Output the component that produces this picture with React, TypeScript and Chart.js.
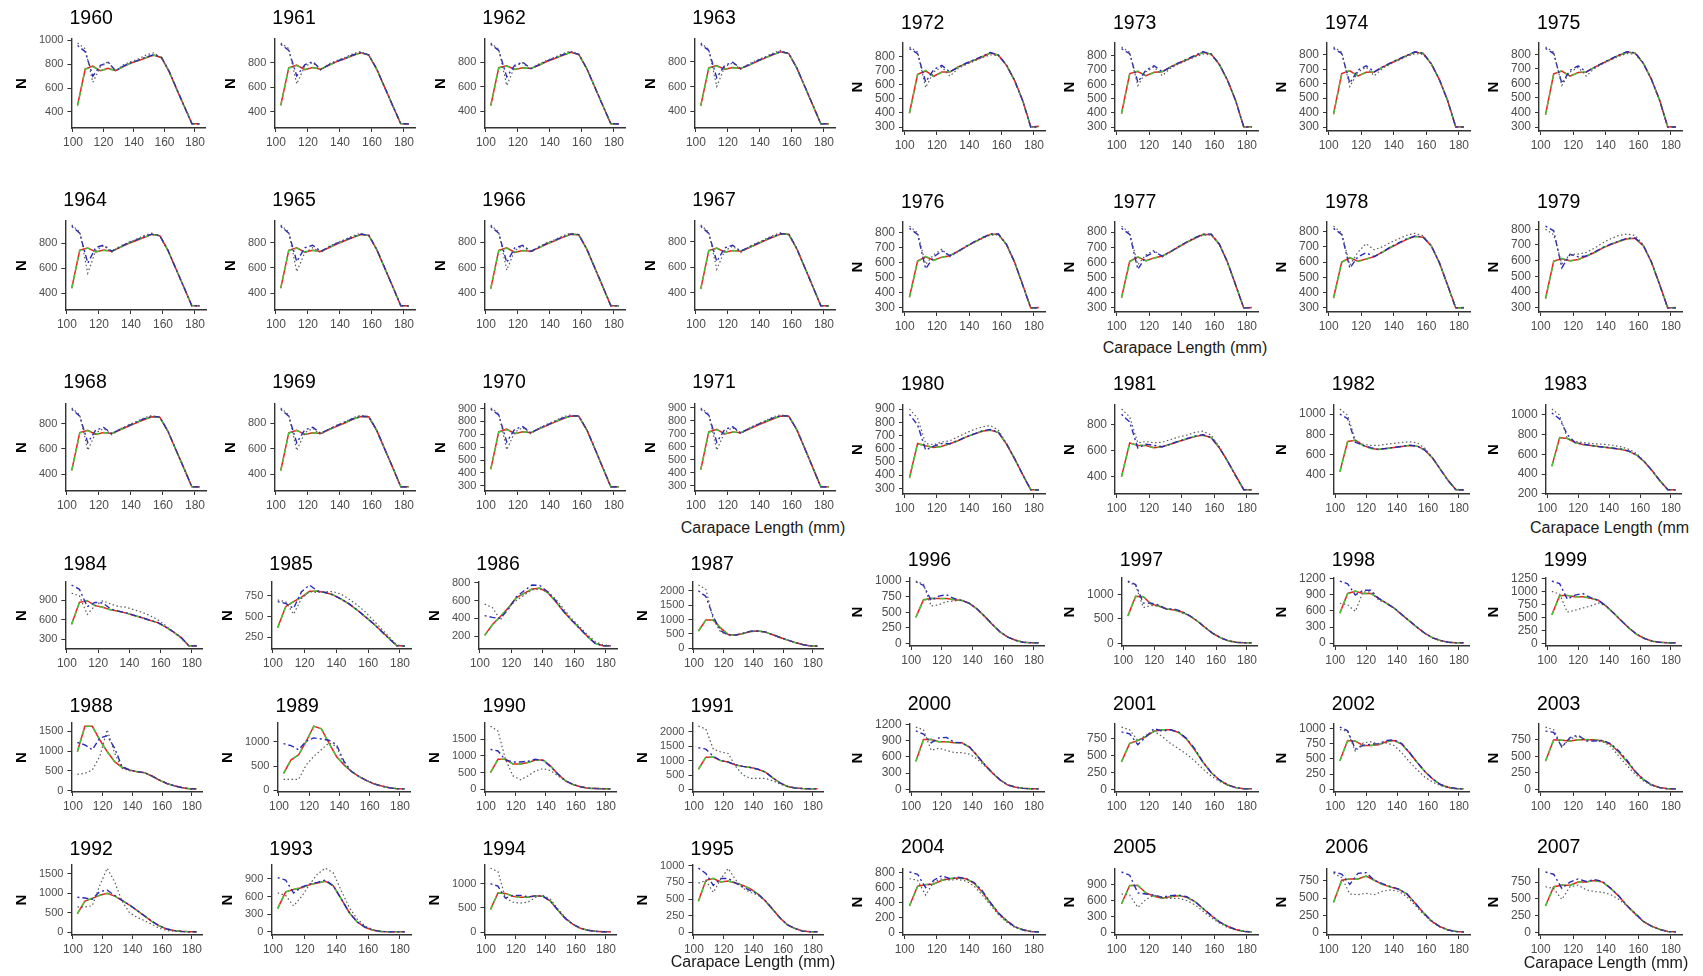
import React, { useEffect, useRef } from "react";
import { Chart, registerables } from "chart.js";

Chart.register(...registerables);

// ---------------- DATA ----------------
const lengthClasses = [103, 108, 113, 118, 123, 128, 133, 138, 143, 148, 153, 158, 163, 168, 173, 178, 183];
const xTickValues = [100, 120, 140, 160, 180];

const panelYears = [
  1960, 1961, 1962, 1963, 1964, 1965, 1966, 1967, 1968, 1969, 1970, 1971,
  1972, 1973, 1974, 1975, 1976, 1977, 1978, 1979, 1980, 1981, 1982, 1983,
  1984, 1985, 1986, 1987, 1988, 1989, 1990, 1991, 1992, 1993, 1994, 1995,
  1996, 1997, 1998, 1999, 2000, 2001, 2002, 2003, 2004, 2005, 2006, 2007,
];

// red solid line
const redSeries = [
  [456, 760, 785, 745, 765, 745, 780, 810, 830, 855, 878, 855, 740, 590, 445, 300, 300],
  [452, 758, 780, 742, 760, 745, 778, 808, 832, 858, 880, 862, 745, 595, 445, 300, 300],
  [448, 755, 770, 740, 755, 748, 775, 805, 830, 855, 880, 862, 748, 598, 448, 300, 300],
  [445, 750, 768, 738, 752, 745, 770, 800, 828, 855, 880, 865, 750, 600, 450, 300, 300],
  [440, 745, 762, 730, 745, 735, 765, 795, 820, 845, 870, 860, 745, 598, 450, 300, 300],
  [440, 740, 760, 725, 740, 730, 760, 790, 815, 840, 865, 858, 745, 598, 450, 300, 300],
  [435, 735, 755, 720, 735, 728, 755, 785, 810, 838, 862, 858, 745, 598, 450, 300, 300],
  [432, 730, 750, 718, 732, 725, 752, 780, 808, 835, 860, 858, 745, 598, 450, 300, 300],
  [430, 730, 748, 715, 730, 722, 750, 778, 805, 832, 855, 852, 742, 596, 450, 300, 300],
  [428, 725, 745, 712, 725, 720, 748, 775, 802, 830, 852, 850, 742, 596, 450, 300, 300],
  [430, 720, 740, 705, 720, 712, 740, 768, 795, 820, 842, 840, 735, 590, 440, 292, 292],
  [425, 715, 735, 700, 715, 708, 736, 765, 790, 815, 838, 836, 732, 588, 440, 292, 292],
  [400, 676, 700, 662, 693, 693, 729, 752, 776, 800, 829, 812, 740, 633, 490, 300, 305],
  [395, 675, 690, 660, 685, 688, 722, 748, 772, 798, 825, 812, 740, 630, 488, 300, 302],
  [390, 670, 690, 655, 680, 682, 715, 742, 768, 795, 820, 810, 738, 628, 486, 300, 302],
  [385, 665, 685, 650, 675, 678, 710, 738, 765, 792, 815, 808, 738, 628, 486, 300, 302],
  [372, 612, 640, 618, 638, 648, 678, 708, 738, 765, 790, 790, 722, 605, 455, 300, 302],
  [368, 608, 635, 612, 630, 642, 672, 702, 732, 760, 785, 785, 720, 603, 453, 300, 302],
  [365, 600, 628, 605, 620, 635, 665, 695, 722, 748, 768, 762, 705, 595, 450, 300, 302],
  [360, 598, 612, 600, 608, 628, 652, 680, 702, 722, 740, 742, 695, 592, 450, 300, 302],
  [380, 640, 622, 610, 618, 638, 660, 688, 710, 732, 742, 722, 635, 525, 405, 290, 290],
  [400, 660, 640, 640, 622, 630, 650, 670, 690, 708, 720, 700, 622, 522, 410, 300, 300],
  [430, 728, 740, 690, 660, 650, 658, 668, 678, 688, 682, 642, 562, 452, 342, 250, 250],
  [480, 770, 760, 720, 700, 690, 680, 670, 660, 650, 630, 590, 520, 430, 330, 240, 240],
  [530, 865, 890, 815, 790, 750, 730, 700, 665, 630, 590, 555, 490, 415, 330, 200, 200],
  [370, 620, 680, 735, 805, 805, 790, 760, 710, 650, 580, 500, 420, 330, 240, 150, 150],
  [210, 330, 420, 520, 630, 680, 730, 740, 690, 590, 480, 380, 290, 200, 120, 90, 90],
  [600, 980, 980, 700, 480, 450, 510, 580, 600, 560, 470, 370, 280, 200, 130, 80, 80],
  [991, 1627, 1627, 1288, 991, 737, 593, 525, 483, 458, 373, 271, 186, 127, 85, 51, 51],
  [350, 629, 734, 1014, 1329, 1273, 979, 699, 524, 385, 280, 196, 126, 84, 49, 28, 28],
  [500, 900, 900, 760, 760, 800, 880, 880, 700, 450, 250, 140, 70, 30, 20, 10, 10],
  [700, 1120, 1120, 1000, 950, 850, 800, 760, 700, 600, 400, 220, 100, 50, 30, 20, 20],
  [480, 800, 870, 950, 1000, 930, 820, 700, 560, 420, 280, 160, 80, 40, 20, 10, 10],
  [400, 680, 720, 750, 800, 830, 860, 780, 560, 330, 170, 80, 30, 10, 5, 5, 5],
  [470, 810, 800, 740, 720, 720, 750, 740, 640, 450, 280, 160, 80, 40, 20, 10, 10],
  [472, 782, 808, 756, 772, 741, 705, 653, 575, 472, 342, 212, 109, 57, 21, 10, 10],
  [420, 700, 720, 720, 720, 700, 690, 640, 550, 430, 300, 180, 100, 50, 20, 10, 10],
  [560, 960, 950, 800, 760, 700, 680, 640, 560, 450, 320, 200, 110, 50, 20, 10, 10],
  [564, 927, 970, 927, 927, 836, 745, 655, 533, 412, 291, 182, 97, 48, 18, 6, 6],
  [550, 920, 920, 900, 900, 870, 830, 720, 580, 430, 290, 170, 90, 40, 20, 10, 10],
  [520, 920, 920, 880, 880, 860, 860, 780, 620, 450, 300, 170, 80, 40, 20, 10, 10],
  [410, 680, 720, 780, 860, 880, 880, 840, 740, 580, 400, 250, 140, 70, 30, 10, 10],
  [470, 800, 790, 720, 720, 730, 780, 800, 740, 600, 440, 290, 170, 80, 35, 15, 10],
  [430, 750, 740, 730, 750, 750, 750, 730, 680, 560, 420, 270, 150, 70, 30, 10, 10],
  [360, 620, 640, 650, 700, 720, 730, 720, 660, 540, 400, 260, 160, 80, 40, 15, 10],
  [540, 880, 880, 740, 680, 640, 670, 690, 660, 580, 450, 320, 200, 120, 60, 25, 15],
  [440, 760, 780, 780, 820, 760, 700, 660, 630, 560, 430, 290, 170, 90, 40, 15, 10],
  [398, 680, 703, 703, 750, 750, 773, 750, 656, 539, 398, 281, 164, 94, 47, 14, 9],
];

// green dashed line
const greenSeries = [
  [450, 758, 778, 748, 760, 750, 778, 812, 832, 858, 875, 858, 742, 592, 448, 302, 298],
  [448, 755, 776, 745, 758, 748, 776, 810, 834, 860, 878, 864, 746, 596, 448, 302, 298],
  [445, 752, 768, 742, 752, 750, 773, 808, 832, 858, 878, 864, 748, 598, 450, 302, 298],
  [442, 748, 765, 740, 750, 748, 770, 803, 830, 857, 878, 866, 750, 600, 452, 302, 298],
  [438, 742, 760, 732, 742, 738, 765, 798, 822, 848, 868, 862, 746, 598, 452, 302, 298],
  [438, 738, 756, 728, 738, 733, 760, 793, 818, 843, 863, 860, 746, 598, 452, 302, 298],
  [433, 732, 752, 722, 733, 730, 755, 788, 813, 840, 860, 860, 746, 598, 452, 302, 298],
  [430, 728, 748, 720, 730, 728, 752, 783, 810, 838, 858, 860, 746, 598, 452, 302, 298],
  [428, 728, 745, 718, 728, 725, 750, 780, 808, 835, 853, 854, 744, 596, 452, 302, 298],
  [426, 722, 742, 715, 723, 723, 748, 778, 805, 832, 850, 852, 744, 596, 452, 302, 298],
  [428, 718, 736, 708, 718, 715, 740, 770, 798, 823, 840, 842, 737, 590, 442, 294, 290],
  [423, 712, 732, 703, 713, 711, 736, 768, 793, 818, 836, 838, 734, 588, 442, 294, 290],
  [398, 672, 705, 660, 690, 695, 727, 755, 778, 803, 827, 815, 742, 630, 488, 302, 300],
  [393, 672, 694, 658, 683, 690, 720, 750, 775, 800, 823, 814, 742, 628, 486, 302, 300],
  [388, 668, 692, 653, 678, 684, 714, 745, 770, 797, 818, 812, 740, 626, 484, 302, 300],
  [383, 663, 688, 648, 673, 680, 710, 740, 767, 794, 813, 810, 740, 626, 484, 302, 300],
  [370, 608, 644, 616, 636, 650, 676, 710, 740, 768, 788, 792, 724, 603, 453, 302, 300],
  [366, 604, 638, 610, 628, 644, 670, 705, 735, 763, 783, 787, 722, 601, 451, 302, 300],
  [363, 596, 631, 603, 618, 637, 663, 698, 725, 751, 766, 764, 707, 593, 448, 302, 300],
  [358, 594, 615, 598, 606, 630, 650, 683, 705, 725, 738, 744, 697, 590, 448, 302, 300],
  [378, 636, 625, 608, 616, 640, 658, 690, 712, 735, 740, 724, 637, 523, 403, 292, 288],
  [398, 656, 643, 638, 620, 632, 648, 672, 692, 711, 718, 702, 624, 520, 408, 302, 298],
  [428, 724, 743, 688, 658, 652, 656, 670, 680, 691, 680, 644, 564, 450, 340, 252, 248],
  [478, 766, 763, 718, 698, 692, 678, 672, 662, 653, 628, 592, 522, 428, 328, 242, 238],
  [525, 860, 893, 812, 788, 752, 728, 702, 667, 633, 588, 557, 492, 413, 328, 202, 198],
  [365, 615, 684, 732, 802, 808, 788, 762, 712, 653, 578, 502, 422, 328, 238, 152, 148],
  [205, 326, 424, 518, 628, 683, 728, 742, 692, 593, 478, 382, 292, 198, 118, 92, 88],
  [595, 975, 984, 698, 478, 452, 508, 582, 602, 563, 468, 372, 282, 198, 128, 82, 78],
  [985, 1620, 1632, 1280, 985, 740, 590, 528, 485, 460, 370, 273, 188, 125, 83, 53, 49],
  [345, 625, 738, 1010, 1325, 1277, 975, 702, 526, 388, 278, 198, 128, 82, 47, 30, 26],
  [495, 895, 904, 758, 758, 803, 878, 883, 702, 453, 248, 142, 72, 28, 18, 12, 8],
  [695, 1115, 1124, 998, 948, 852, 798, 762, 702, 603, 398, 222, 102, 48, 28, 22, 18],
  [475, 795, 874, 948, 998, 933, 818, 702, 562, 423, 278, 162, 82, 38, 18, 12, 8],
  [395, 676, 724, 748, 798, 833, 858, 782, 562, 333, 168, 82, 32, 8, 3, 7, 3],
  [465, 805, 804, 738, 718, 723, 748, 742, 642, 453, 278, 162, 82, 38, 18, 12, 8],
  [465, 775, 812, 760, 768, 744, 703, 655, 577, 475, 340, 214, 111, 55, 19, 12, 8],
  [415, 695, 724, 718, 718, 703, 688, 642, 552, 433, 298, 182, 102, 48, 18, 12, 8],
  [555, 955, 954, 798, 758, 703, 678, 642, 562, 453, 318, 202, 112, 48, 18, 12, 8],
  [558, 922, 973, 925, 925, 839, 743, 657, 535, 415, 289, 184, 99, 46, 16, 8, 4],
  [545, 915, 924, 898, 898, 873, 828, 722, 582, 433, 288, 172, 92, 38, 18, 12, 8],
  [515, 915, 924, 878, 878, 863, 858, 782, 622, 453, 298, 172, 82, 38, 18, 12, 8],
  [405, 676, 724, 778, 858, 883, 878, 842, 742, 583, 398, 252, 142, 68, 28, 12, 8],
  [465, 795, 794, 718, 718, 733, 778, 802, 742, 603, 438, 292, 172, 78, 33, 17, 8],
  [425, 745, 744, 728, 748, 753, 748, 732, 682, 563, 418, 272, 152, 68, 28, 12, 8],
  [355, 616, 644, 648, 698, 723, 728, 722, 662, 543, 398, 262, 162, 78, 38, 17, 8],
  [535, 875, 884, 738, 678, 643, 668, 692, 662, 583, 448, 322, 202, 118, 58, 27, 13],
  [435, 756, 784, 778, 818, 763, 698, 662, 632, 563, 428, 292, 172, 88, 38, 17, 8],
  [392, 675, 707, 700, 748, 753, 771, 752, 658, 542, 396, 283, 166, 92, 45, 16, 7],
];

// blue dot-dash line
const blueSeries = [
  [958, 905, 700, 790, 815, 745, 785, 812, 835, 860, 880, 858, 742, 592, 445, 300, 298],
  [950, 900, 690, 782, 808, 745, 782, 810, 835, 862, 882, 864, 746, 596, 446, 300, 298],
  [945, 895, 680, 775, 800, 748, 778, 808, 834, 860, 882, 864, 748, 598, 448, 300, 298],
  [940, 890, 670, 770, 795, 745, 775, 805, 832, 860, 882, 866, 750, 600, 450, 300, 298],
  [935, 880, 640, 765, 785, 735, 770, 800, 825, 850, 872, 862, 746, 598, 450, 300, 298],
  [930, 875, 650, 760, 780, 730, 765, 795, 820, 845, 868, 860, 746, 598, 450, 300, 298],
  [925, 870, 640, 755, 775, 728, 760, 790, 815, 842, 865, 860, 746, 598, 450, 300, 298],
  [920, 865, 645, 752, 772, 725, 757, 785, 812, 840, 862, 860, 746, 598, 450, 300, 298],
  [915, 860, 650, 750, 770, 722, 755, 782, 810, 838, 858, 854, 744, 596, 450, 300, 298],
  [910, 855, 645, 748, 768, 720, 752, 780, 808, 835, 855, 852, 744, 596, 450, 300, 298],
  [895, 850, 640, 740, 760, 712, 745, 772, 800, 826, 845, 842, 737, 590, 440, 292, 290],
  [890, 845, 635, 735, 755, 708, 740, 768, 795, 822, 840, 838, 734, 588, 440, 292, 290],
  [860, 824, 621, 710, 740, 693, 725, 755, 780, 805, 832, 814, 742, 632, 488, 300, 300],
  [850, 815, 615, 700, 730, 688, 720, 750, 776, 802, 828, 814, 742, 630, 486, 300, 300],
  [845, 810, 605, 695, 725, 682, 715, 745, 772, 798, 822, 812, 740, 628, 484, 300, 300],
  [840, 805, 600, 690, 720, 678, 710, 740, 768, 795, 818, 810, 740, 628, 484, 300, 300],
  [830, 790, 560, 640, 680, 648, 676, 710, 740, 768, 792, 792, 724, 605, 453, 300, 300],
  [825, 785, 555, 640, 670, 642, 670, 705, 735, 763, 787, 787, 722, 603, 451, 300, 300],
  [820, 780, 560, 635, 660, 635, 665, 698, 725, 752, 770, 764, 707, 595, 448, 300, 300],
  [820, 790, 555, 640, 625, 630, 655, 683, 705, 725, 742, 744, 697, 592, 448, 300, 300],
  [860, 780, 590, 620, 640, 638, 662, 690, 712, 735, 745, 724, 637, 525, 403, 290, 288],
  [880, 820, 620, 650, 640, 630, 652, 672, 692, 711, 722, 702, 624, 522, 408, 300, 298],
  [1000, 955, 720, 690, 668, 650, 660, 670, 680, 691, 684, 644, 564, 452, 340, 250, 248],
  [1020, 960, 800, 720, 705, 690, 680, 672, 662, 653, 632, 592, 522, 430, 328, 240, 238],
  [1130, 1065, 800, 865, 855, 765, 732, 702, 667, 633, 592, 557, 492, 415, 328, 200, 198],
  [680, 660, 600, 800, 880, 810, 790, 762, 712, 653, 582, 502, 422, 330, 238, 150, 148],
  [430, 410, 400, 500, 640, 710, 775, 770, 700, 600, 482, 382, 292, 200, 118, 90, 88],
  [2000, 1800, 1100, 600, 460, 460, 520, 590, 602, 563, 472, 372, 282, 200, 128, 80, 78],
  [1220, 1161, 1034, 1330, 1390, 1076, 610, 525, 485, 460, 375, 273, 188, 127, 83, 51, 49],
  [965, 923, 839, 1014, 1084, 1063, 1035, 944, 594, 385, 282, 198, 128, 84, 47, 28, 26],
  [1200, 1150, 880, 820, 820, 840, 900, 860, 680, 453, 252, 142, 72, 30, 18, 10, 8],
  [1450, 1400, 1150, 1000, 950, 850, 800, 762, 702, 603, 402, 222, 102, 50, 28, 20, 18],
  [900, 880, 850, 1050, 1080, 950, 820, 702, 562, 423, 282, 162, 82, 40, 18, 10, 8],
  [920, 880, 660, 760, 810, 840, 880, 782, 562, 333, 172, 82, 32, 10, 3, 5, 3],
  [1000, 950, 700, 760, 760, 730, 750, 742, 642, 453, 282, 162, 82, 40, 18, 10, 8],
  [964, 886, 705, 808, 808, 741, 679, 627, 575, 475, 344, 214, 111, 57, 19, 10, 8],
  [990, 930, 690, 760, 780, 720, 690, 642, 552, 433, 302, 182, 102, 50, 18, 10, 8],
  [1270, 1200, 820, 820, 780, 700, 700, 650, 562, 453, 322, 202, 112, 50, 18, 10, 8],
  [1158, 1109, 897, 988, 988, 836, 745, 657, 535, 415, 293, 184, 99, 48, 16, 6, 4],
  [1200, 1150, 850, 930, 960, 880, 830, 722, 582, 433, 292, 172, 92, 40, 18, 10, 8],
  [1080, 1020, 860, 950, 960, 870, 860, 782, 622, 453, 302, 172, 82, 40, 18, 10, 8],
  [850, 820, 660, 780, 900, 860, 880, 850, 750, 600, 402, 252, 142, 70, 28, 10, 8],
  [1020, 960, 660, 720, 740, 750, 800, 810, 750, 603, 442, 292, 172, 80, 33, 15, 8],
  [880, 860, 640, 780, 820, 730, 730, 740, 690, 580, 440, 272, 152, 70, 28, 10, 8],
  [810, 780, 600, 700, 760, 720, 740, 720, 670, 560, 402, 262, 162, 80, 38, 15, 8],
  [1130, 1070, 740, 720, 700, 660, 690, 700, 670, 583, 452, 322, 202, 120, 58, 25, 13],
  [880, 850, 700, 860, 870, 760, 710, 670, 632, 563, 432, 292, 172, 90, 38, 15, 8],
  [900, 867, 656, 750, 797, 759, 788, 759, 658, 542, 400, 283, 166, 94, 45, 14, 7],
];

// grey dotted line
const greySeries = [
  [978, 930, 648, 780, 822, 742, 795, 822, 845, 878, 895, 852, 738, 590, 448, 302, 298],
  [960, 915, 625, 770, 800, 738, 790, 818, 842, 872, 892, 860, 742, 594, 447, 302, 298],
  [955, 905, 610, 765, 795, 740, 785, 815, 840, 870, 890, 860, 745, 596, 448, 302, 298],
  [950, 900, 600, 760, 790, 738, 782, 812, 838, 868, 890, 862, 748, 598, 450, 302, 298],
  [945, 890, 560, 740, 780, 728, 775, 805, 830, 860, 880, 858, 742, 596, 450, 302, 298],
  [940, 885, 570, 720, 760, 720, 770, 800, 825, 855, 875, 855, 742, 596, 450, 302, 298],
  [935, 880, 580, 735, 770, 718, 765, 795, 820, 850, 872, 855, 742, 596, 450, 302, 298],
  [930, 875, 585, 730, 765, 715, 760, 790, 818, 848, 870, 855, 742, 596, 450, 302, 298],
  [925, 870, 590, 728, 762, 712, 758, 788, 815, 845, 865, 850, 740, 594, 450, 302, 298],
  [920, 865, 585, 725, 760, 710, 755, 785, 812, 842, 862, 848, 740, 594, 450, 302, 298],
  [905, 860, 580, 718, 752, 705, 748, 778, 805, 835, 852, 838, 733, 588, 440, 294, 290],
  [900, 855, 575, 712, 748, 700, 744, 774, 800, 830, 848, 834, 730, 586, 440, 294, 290],
  [871, 836, 581, 693, 729, 662, 717, 745, 770, 795, 815, 808, 738, 630, 488, 302, 300],
  [862, 825, 590, 688, 722, 660, 712, 742, 768, 792, 812, 806, 738, 628, 486, 302, 300],
  [855, 820, 580, 682, 715, 655, 706, 738, 764, 790, 808, 804, 736, 626, 484, 302, 300],
  [850, 815, 585, 678, 710, 650, 702, 734, 760, 786, 805, 802, 736, 626, 484, 302, 300],
  [845, 800, 590, 655, 690, 640, 672, 705, 735, 762, 785, 786, 720, 603, 453, 302, 300],
  [840, 795, 585, 650, 680, 636, 668, 700, 730, 758, 780, 782, 718, 601, 451, 302, 300],
  [835, 790, 580, 665, 720, 680, 700, 728, 752, 775, 788, 772, 705, 593, 448, 302, 300],
  [800, 765, 580, 640, 642, 652, 680, 712, 740, 760, 770, 760, 702, 590, 448, 302, 300],
  [900, 830, 640, 630, 650, 660, 690, 720, 745, 765, 775, 740, 640, 523, 403, 292, 288],
  [920, 860, 660, 670, 660, 665, 685, 705, 720, 740, 750, 720, 630, 520, 408, 302, 298],
  [1050, 990, 740, 700, 690, 690, 700, 710, 720, 725, 715, 660, 565, 450, 340, 252, 248],
  [1060, 1000, 760, 730, 720, 710, 705, 700, 690, 675, 650, 605, 525, 428, 328, 242, 238],
  [1005, 965, 680, 815, 890, 840, 800, 790, 750, 715, 665, 600, 515, 415, 315, 200, 200],
  [700, 680, 530, 720, 800, 790, 800, 800, 770, 710, 640, 560, 460, 360, 260, 160, 150],
  [560, 520, 380, 520, 600, 660, 720, 730, 700, 620, 510, 400, 310, 220, 140, 100, 90],
  [2200, 2050, 1000, 560, 480, 460, 520, 585, 600, 560, 470, 370, 280, 200, 128, 80, 78],
  [415, 440, 525, 864, 1542, 949, 568, 508, 483, 458, 373, 271, 186, 127, 85, 51, 51],
  [224, 224, 224, 524, 699, 839, 979, 909, 524, 385, 280, 196, 126, 84, 49, 28, 28],
  [1900, 1750, 900, 400, 280, 400, 550, 620, 560, 400, 250, 140, 70, 30, 20, 10, 10],
  [2200, 2100, 1400, 1300, 1250, 800, 500, 380, 380, 380, 300, 180, 90, 50, 30, 20, 20],
  [650, 650, 680, 1200, 1650, 1300, 800, 500, 380, 300, 200, 100, 40, 20, 10, 10, 10],
  [660, 620, 440, 600, 800, 980, 1080, 1000, 700, 420, 220, 100, 40, 10, 5, 5, 5],
  [1320, 1250, 700, 620, 600, 620, 720, 760, 680, 480, 300, 160, 80, 40, 20, 10, 10],
  [740, 780, 600, 800, 960, 790, 660, 600, 560, 470, 342, 212, 109, 57, 21, 10, 10],
  [1000, 950, 600, 620, 670, 680, 700, 640, 550, 430, 300, 180, 100, 50, 20, 10, 10],
  [1250, 1180, 730, 770, 760, 690, 690, 620, 560, 450, 320, 200, 110, 50, 20, 10, 10],
  [745, 715, 594, 958, 958, 806, 745, 655, 533, 412, 291, 182, 97, 48, 18, 6, 6],
  [1000, 950, 600, 640, 680, 720, 780, 720, 580, 430, 290, 170, 90, 40, 20, 10, 10],
  [1150, 1100, 720, 760, 720, 680, 680, 650, 560, 430, 300, 170, 80, 40, 20, 10, 10],
  [920, 880, 720, 800, 860, 780, 680, 600, 520, 420, 300, 200, 120, 60, 25, 10, 10],
  [980, 950, 620, 760, 780, 740, 760, 720, 600, 450, 320, 200, 120, 60, 25, 10, 10],
  [940, 900, 650, 760, 800, 750, 740, 720, 650, 500, 360, 230, 130, 60, 25, 10, 10],
  [720, 700, 500, 680, 720, 700, 710, 690, 620, 500, 370, 240, 140, 70, 30, 15, 10],
  [720, 700, 470, 620, 700, 650, 640, 640, 600, 520, 400, 280, 180, 100, 50, 20, 15],
  [860, 800, 560, 550, 570, 550, 600, 620, 600, 520, 400, 270, 160, 80, 35, 15, 10],
  [680, 656, 492, 680, 703, 633, 609, 600, 562, 492, 398, 267, 164, 94, 47, 14, 9],
];

const yTickValues = [
  [400, 600, 800, 1000], [400, 600, 800], [400, 600, 800], [400, 600, 800],
  [400, 600, 800], [400, 600, 800], [400, 600, 800], [400, 600, 800],
  [400, 600, 800], [400, 600, 800], [300, 400, 500, 600, 700, 800, 900], [300, 400, 500, 600, 700, 800, 900],
  [300, 400, 500, 600, 700, 800], [300, 400, 500, 600, 700, 800], [300, 400, 500, 600, 700, 800], [300, 400, 500, 600, 700, 800],
  [300, 400, 500, 600, 700, 800], [300, 400, 500, 600, 700, 800], [300, 400, 500, 600, 700, 800], [300, 400, 500, 600, 700, 800],
  [300, 400, 500, 600, 700, 800, 900], [400, 600, 800], [400, 600, 800, 1000], [200, 400, 600, 800, 1000],
  [300, 600, 900], [250, 500, 750], [200, 400, 600, 800], [0, 500, 1000, 1500, 2000],
  [0, 500, 1000, 1500], [0, 500, 1000], [0, 500, 1000, 1500], [0, 500, 1000, 1500, 2000],
  [0, 500, 1000, 1500], [0, 300, 600, 900], [0, 500, 1000], [0, 250, 500, 750, 1000],
  [0, 250, 500, 750, 1000], [0, 500, 1000], [0, 300, 600, 900, 1200], [0, 250, 500, 750, 1000, 1250],
  [0, 300, 600, 900, 1200], [0, 250, 500, 750], [0, 250, 500, 750, 1000], [0, 250, 500, 750],
  [0, 200, 400, 600, 800], [0, 300, 600, 900], [0, 250, 500, 750], [0, 250, 500, 750],
];

const xAxisLabelText = "Carapace Length (mm)";

// ---------------- LAYOUT ----------------
const FONT = "'Liberation Sans', Arial, Helvetica, sans-serif";

const leftRows = [
  { top: 39, bottom: 128, title: 19 },
  { top: 221, bottom: 310, title: 201 },
  { top: 404, bottom: 491, title: 383 },
  { top: 582, bottom: 649, title: 565 },
  { top: 723, bottom: 792, title: 707 },
  { top: 865, bottom: 935, title: 850 },
];
const rightRows = [
  { top: 43, bottom: 131, title: 24 },
  { top: 222, bottom: 312, title: 203 },
  { top: 405, bottom: 494, title: 385 },
  { top: 578, bottom: 646, title: 561 },
  { top: 724, bottom: 792, title: 705 },
  { top: 869, bottom: 935, title: 848 },
];
const nCenterTop = [22, 231, 441, 651, 858, 1070, 1282, 1494];
const nCenterBottom = [22, 228, 435, 643, 858, 1070, 1282, 1494];
const plotRightTop = [208, 417, 627, 837, 1047, 1260, 1472, 1684];
const plotRightBottom = [205, 413, 619, 826, 1047, 1260, 1472, 1684];

const axisLabels = [
  { text: xAxisLabelText, x: 1185, y: 348, align: "center" },
  { text: xAxisLabelText, x: 763, y: 528, align: "center" },
  { text: "Carapace Length (mm", x: 1530, y: 528, align: "left" },
  { text: xAxisLabelText, x: 753, y: 962, align: "center" },
  { text: xAxisLabelText, x: 1606, y: 963, align: "center" },
];

function placement(year: number) {
  let k = 0, rowBase = 0, colBase = 0;
  if (year <= 1971) { k = year - 1960; rowBase = 0; colBase = 0; }
  else if (year <= 1983) { k = year - 1972; rowBase = 0; colBase = 4; }
  else if (year <= 1995) { k = year - 1984; rowBase = 3; colBase = 0; }
  else { k = year - 1996; rowBase = 3; colBase = 4; }
  const row = rowBase + Math.floor(k / 4);
  const col = colBase + (k % 4);
  const rowGeom = col < 4 ? leftRows[row] : rightRows[row];
  const nCenter = row < 3 ? nCenterTop[col] : nCenterBottom[col];
  const plotRight = row < 3 ? plotRightTop[col] : plotRightBottom[col];
  return { row, col, rowGeom, nCenter, plotRight };
}

const panelTitlePlugin = {
  id: "panelTitle",
  afterDraw(chart: any, _args: any, opts: any) {
    const { ctx, chartArea } = chart;
    ctx.save();
    ctx.font = `19.5px ${FONT}`;
    ctx.fillStyle = "#000000";
    ctx.textBaseline = "middle";
    ctx.textAlign = "left";
    ctx.fillText(opts.text, chartArea.left - 2, opts.y);
    ctx.restore();
  },
};

const X_AXIS_H = 22;
const N_SIZE = 15;

function Panel({ index }: { index: number }) {
  const ref = useRef<HTMLCanvasElement | null>(null);
  const year = panelYears[index];
  const { col, rowGeom, nCenter, plotRight } = placement(year);
  const canvasLeft = Math.round(nCenter - 11);
  const canvasTop = rowGeom.title - 14;
  const width = plotRight - canvasLeft;
  const height = rowGeom.bottom + X_AXIS_H - canvasTop;
  const padTop = rowGeom.top - canvasTop;
  const titlePadOuter = nCenter - canvasLeft - (N_SIZE * 1.2) / 2;
  const yTickSize = col < 4 ? 11 : 12;

  useEffect(() => {
    if (!ref.current) return;
    const all = [...redSeries[index], ...greenSeries[index], ...blueSeries[index], ...greySeries[index]];
    const lo = Math.min(...all);
    const hi = Math.max(...all);
    const pad = (hi - lo) * 0.05;
    const yMin = lo - pad;
    const yMax = hi + pad;
    const yt = yTickValues[index].filter((v) => v >= yMin && v <= yMax);
    const toPts = (arr: number[]) => lengthClasses.map((x, i) => ({ x, y: arr[i] }));

    const chart = new Chart(ref.current, {
      type: "line",
      data: {
        datasets: [
          { data: toPts(greySeries[index]), borderColor: "#5a5a5a", borderWidth: 1.2, borderDash: [1.5, 2.5], pointRadius: 0, fill: false, tension: 0 },
          { data: toPts(blueSeries[index]), borderColor: "#2a2ab8", borderWidth: 1.4, borderDash: [2, 3, 6, 3], pointRadius: 0, fill: false, tension: 0 },
          { data: toPts(greenSeries[index]), borderColor: "#35d035", borderWidth: 1.4, borderDash: [5, 4], pointRadius: 0, fill: false, tension: 0 },
          { data: toPts(redSeries[index]), borderColor: "#ee2020", borderWidth: 1.5, pointRadius: 0, fill: false, tension: 0 },
        ] as any,
      },
      options: {
        animation: false,
        responsive: false,
        maintainAspectRatio: false,
        events: [],
        layout: { padding: { top: padTop, right: 0, bottom: 0, left: 0 } },
        plugins: {
          legend: { display: false },
          tooltip: { enabled: false },
          title: { display: false },
          panelTitle: { text: String(year), y: rowGeom.title - canvasTop },
        } as any,
        scales: {
          x: {
            type: "linear",
            min: 99,
            max: 187,
            afterBuildTicks: (axis: any) => {
              axis.ticks = xTickValues.map((v) => ({ value: v }));
            },
            afterFit: (axis: any) => {
              axis.height = X_AXIS_H;
            },
            grid: { drawOnChartArea: false, drawTicks: true, tickLength: 4, color: "#333333", tickWidth: 1 },
            border: { display: true, color: "#333333", width: 1.4 },
            ticks: {
              autoSkip: false,
              maxRotation: 0,
              padding: 3,
              color: "#4d4d4d",
              font: { family: FONT, size: 12 },
              callback: (v: any) => String(v),
            },
          },
          y: {
            type: "linear",
            min: yMin,
            max: yMax,
            afterBuildTicks: (axis: any) => {
              axis.ticks = yt.map((v) => ({ value: v }));
            },
            grid: { drawOnChartArea: false, drawTicks: true, tickLength: 4, color: "#333333", tickWidth: 1 },
            border: { display: true, color: "#333333", width: 1.4 },
            ticks: {
              autoSkip: false,
              padding: 4,
              color: "#4d4d4d",
              font: { family: FONT, size: yTickSize },
              callback: (v: any) => String(v),
            },
            title: {
              display: true,
              text: "N",
              color: "#000000",
              font: { family: FONT, size: N_SIZE, weight: "bold" },
              padding: { top: titlePadOuter, bottom: 4 },
            },
          },
        } as any,
      },
      plugins: [panelTitlePlugin as any],
    });
    return () => chart.destroy();
  }, [index]);

  return (
    <canvas
      ref={ref}
      width={width}
      height={height}
      style={{ position: "absolute", left: canvasLeft, top: canvasTop, width, height }}
    />
  );
}

export default function App() {
  return (
    <div
      style={{
        position: "absolute",
        left: 0,
        top: 0,
        width: 1703,
        height: 976,
        background: "#ffffff",
        overflow: "hidden",
      }}
    >
      {panelYears.map((y, i) => (
        <Panel key={y} index={i} />
      ))}
      {axisLabels.map((l, i) => (
        <div
          key={i}
          style={{
            position: "absolute",
            left: l.x,
            top: l.y,
            transform: l.align === "center" ? "translate(-50%, -50%)" : "translate(0, -50%)",
            fontFamily: FONT,
            fontSize: 16,
            color: "#1a1a1a",
            whiteSpace: "nowrap",
            lineHeight: 1,
          }}
        >
          {l.text}
        </div>
      ))}
    </div>
  );
}
